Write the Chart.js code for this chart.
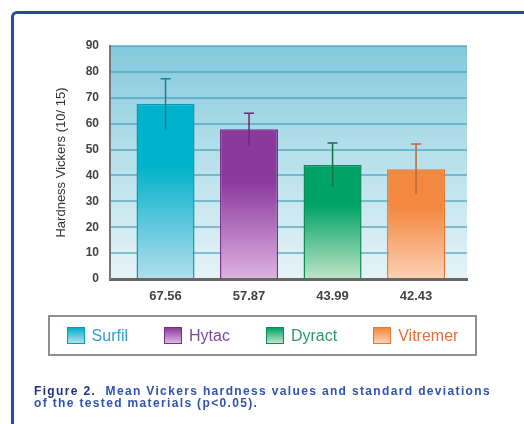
<!DOCTYPE html>
<html>
<head>
<meta charset="utf-8">
<script src="https://cdn.jsdelivr.net/npm/chart.js@4"></script>
<style>
  html, body { margin: 0; padding: 0; background: #fff; }
  body { width: 524px; height: 424px; position: relative; overflow: hidden; font-family: "Liberation Sans", Arial, sans-serif; }
  #frame {
    position: absolute; left: 11px; top: 11px; width: 620px; height: 520px;
    border-left: 3px solid #2c4a9c; border-top: 3px solid #2c4a9c;
    border-top-left-radius: 6px;
  }
  #wrap { position: absolute; left: 0; top: 0; width: 524px; height: 424px; }
  #legend {
    position: absolute; left: 48px; top: 315px; width: 429px; height: 41px;
    box-sizing: border-box; border: 2px solid #8f8f8f;
    display: flex; align-items: center; justify-content: center; gap: 36px;
    font-size: 16px;
  }
  #legend .item { display: flex; align-items: center; }
  #legend .sw { width: 18px; height: 17px; box-sizing: border-box; border: 1px solid; margin-right: 7px; }
  #caption {
    position: absolute; left: 34px; top: 385px; width: 490px; white-space: nowrap;
    font-size: 12px; line-height: 12px; font-weight: bold; color: #2f53ae;
    letter-spacing: 1.35px;
  }
  #caption b { color: #1d3286; }
</style>
</head>
<body>
<div id="frame"></div>
<div id="wrap"><canvas id="chart" width="524" height="424"></canvas></div>
<div id="legend"></div>
<div id="caption"><b>Figure 2.</b>&nbsp; Mean Vickers hardness values and standard deviations<br>of the tested materials (p&lt;0.05).</div>
<script>
// values
const materials = ['Surfil', 'Hytac', 'Dyract', 'Vitremer'];
const tickLabels = ['67.56', '57.87', '43.99', '42.43'];
const means = [67.56, 57.87, 43.99, 42.43];
const sds = [9.8, 6.2, 8.5, 9.7];
const yTicks = [0, 10, 20, 30, 40, 50, 60, 70, 80, 90];

const topColors = ['#00b2cb', '#8b3a9c', '#00a366', '#f3883f'];
const bottomColors = ['#b3dded', '#dfb3e2', '#c0e4c6', '#fdd1b5'];
const borderColors = ['#0a9bb4', '#7a2e8b', '#0d8a57', '#e0793a'];
const errColors = ['#1c7f99', '#6b2a78', '#16704a', '#b66a3e'];
const legendText = ['#2aa3c6', '#7d4a9b', '#2e9962', '#e06f3a'];

function barFill(ctx) {
  const chart = ctx.chart;
  const i = ctx.dataIndex;
  if (!chart.chartArea || i === undefined) return topColors[i] || topColors[0];
  const yTop = chart.scales.y.getPixelForValue(means[i]);
  const g = chart.ctx.createLinearGradient(0, yTop, 0, chart.chartArea.bottom);
  g.addColorStop(0, topColors[i]);
  g.addColorStop(0.35, topColors[i]);
  g.addColorStop(1, bottomColors[i]);
  return g;
}

const plotBackground = {
  id: 'plotBackground',
  beforeDraw(chart) {
    const { ctx, chartArea: a } = chart;
    const g = ctx.createLinearGradient(0, a.top, 0, a.bottom);
    g.addColorStop(0, '#82c9dc');
    g.addColorStop(0.45, '#b4dfea');
    g.addColorStop(1, '#e6f3f7');
    ctx.save();
    ctx.fillStyle = g;
    ctx.fillRect(a.left, a.top, a.right - a.left, a.bottom - a.top);
    ctx.restore();
  }
};

const errorBars = {
  id: 'errorBars',
  afterDatasetsDraw(chart) {
    const { ctx } = chart;
    const y = chart.scales.y;
    const meta = chart.getDatasetMeta(0);
    ctx.save();
    ctx.lineWidth = 1.5;
    meta.data.forEach((bar, i) => {
      const hi = y.getPixelForValue(means[i] + sds[i]);
      const lo = y.getPixelForValue(means[i] - sds[i]);
      ctx.strokeStyle = errColors[i];
      ctx.beginPath();
      ctx.moveTo(bar.x, hi);
      ctx.lineTo(bar.x, lo);
      ctx.moveTo(bar.x - 5, hi);
      ctx.lineTo(bar.x + 5, hi);
      ctx.stroke();
    });
    ctx.restore();
  }
};

// boxed legend under the axis
const legend = document.getElementById('legend');
materials.forEach((m, i) => {
  const item = document.createElement('div');
  item.className = 'item';
  const sw = document.createElement('span');
  sw.className = 'sw';
  sw.style.background = `linear-gradient(${topColors[i]}, ${bottomColors[i]})`;
  sw.style.borderColor = borderColors[i];
  const label = document.createElement('span');
  label.textContent = m;
  label.style.color = legendText[i];
  item.appendChild(sw);
  item.appendChild(label);
  legend.appendChild(item);
});

new Chart(document.getElementById('chart'), {
  type: 'bar',
  data: {
    datasets: [{
      data: means.map((v, i) => ({ x: i, y: v })),
      backgroundColor: barFill,
      borderColor: borderColors,
      borderWidth: 1.5,
      categoryPercentage: 0.695,
      barPercentage: 1
    }]
  },
  options: {
    responsive: false,
    animation: false,
    layout: { padding: { top: 46, left: 0, right: 0, bottom: 115 } },
    plugins: {
      tooltip: { enabled: false },
      legend: { display: false }
    },
    scales: {
      x: {
        type: 'linear',
        min: -0.665,
        max: 3.61,
        offset: false,
        afterBuildTicks: s => { s.ticks = tickLabels.map((t, i) => ({ value: i })); },
        grid: { display: false, offset: false, drawTicks: false },
        border: { color: '#666', width: 3 },
        ticks: {
          color: '#444',
          padding: 10,
          callback: v => tickLabels[v],
          font: { family: '"Liberation Sans", Arial, sans-serif', size: 13, weight: 'bold' }
        },
        afterFit: s => { s.height = 30; }
      },
      y: {
        min: 0,
        max: 90,
        afterBuildTicks: s => { s.ticks = yTicks.map(v => ({ value: v })); },
        grid: { color: 'rgba(55,150,180,0.55)', lineWidth: 2, drawTicks: false },
        border: { color: '#777', width: 2 },
        ticks: {
          color: '#444',
          padding: 11,
          font: { family: '"Liberation Sans", Arial, sans-serif', size: 12, weight: 'bold' }
        },
        title: {
          display: true,
          text: 'Hardness Vickers (10/ 15)',
          color: '#333',
          padding: { top: 54, bottom: 0 },
          font: { family: '"Liberation Sans", Arial, sans-serif', size: 13 }
        },
        afterFit: s => { s.width = 110; }
      },
      // empty right-hand scale that only reserves the margin right of the plot
      yRight: {
        position: 'right',
        display: true,
        grid: { display: false },
        border: { display: false },
        ticks: { display: false },
        afterFit: s => { s.width = 57; }
      }
    }
  },
  plugins: [plotBackground, errorBars]
});
</script>
</body>
</html>
